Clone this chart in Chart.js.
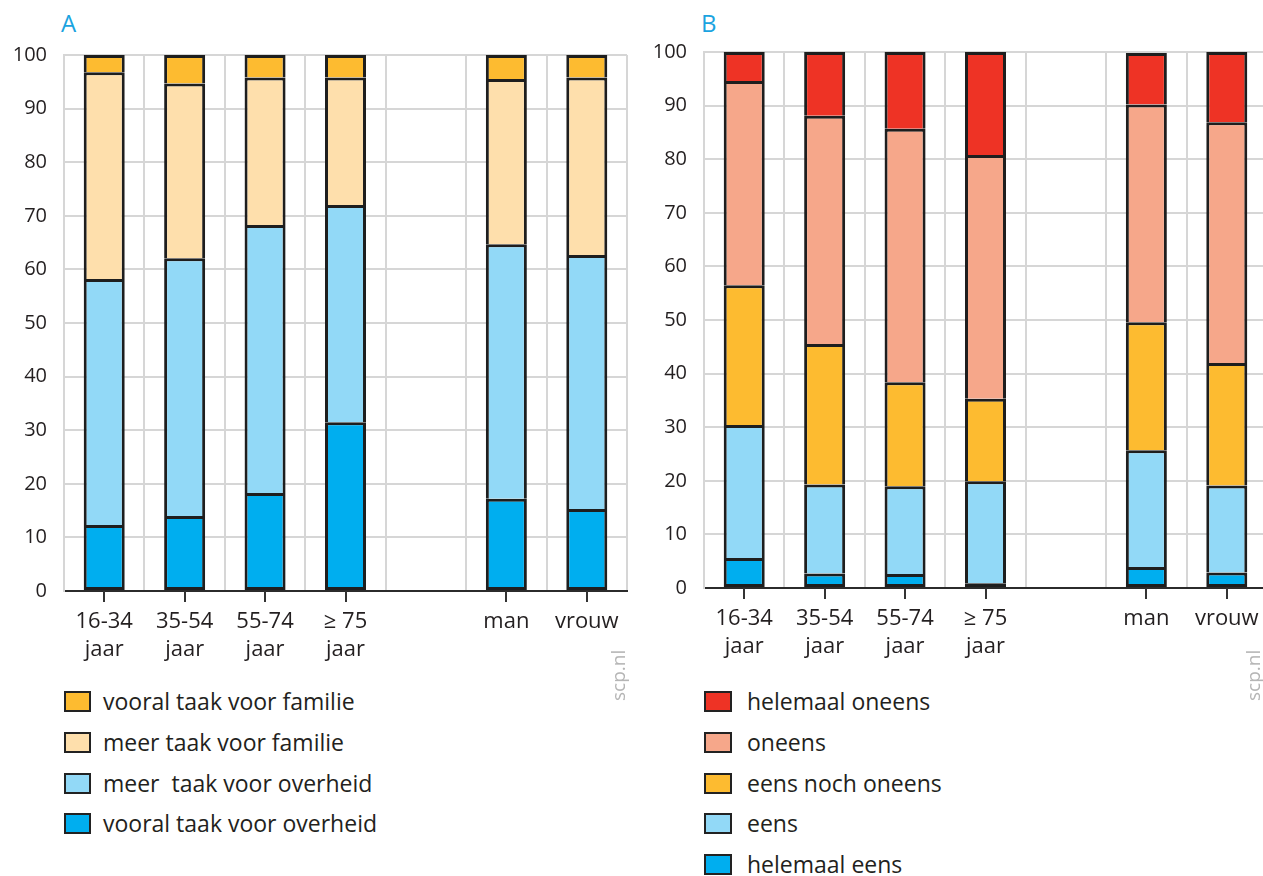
<!DOCTYPE html>
<html>
<head>
<meta charset="utf-8">
<script src="https://cdn.jsdelivr.net/npm/chart.js@4"></script>
<style>
  html, body { margin: 0; padding: 0; background: #fff; }
  body { width: 1263px; height: 876px; overflow: hidden; position: relative; font-family: "Open Sans", sans-serif; color: #231f20; }
  .panel { position: absolute; top: 0; width: 640px; height: 876px; }
  .panel canvas { position: absolute; left: 0; top: 0; }
  .title { position: absolute; top: 6px; font-size: 24px; color: #1aa3e0; }
  .legend { position: absolute; left: 64px; top: 688px; }
  .legend div { height: 40.8px; display: flex; align-items: flex-start; font-size: 23px; line-height: 26px; white-space: pre; }
  .legend span.box { width: 23px; height: 17px; border: 2px solid #222; margin: 3px 12px 0 0; flex: none; }
  #legB span.box { width: 24px; margin-right: 15px; }
  .mark { position: absolute; top: 701px; font-size: 19px; line-height: 20px; color: #b5b5b5; transform: rotate(-90deg); transform-origin: left top; }
</style>
</head>
<body>
<div class="panel" id="pa" style="left:0">
  <div class="title" style="left:61px">A</div>
  <canvas id="chartA" width="640" height="680"></canvas>
  <div class="legend" id="legA"></div>
  <div class="mark" style="left:608px">scp.nl</div>
</div>
<div class="panel" id="pb" style="left:640px">
  <div class="title" style="left:61px">B</div>
  <canvas id="chartB" width="640" height="677"></canvas>
  <div class="legend" id="legB"></div>
  <div class="mark" style="left:603px">scp.nl</div>
</div>
<script>
const categories = [['16-34', 'jaar'], ['35-54', 'jaar'], ['55-74', 'jaar'], ['≥ 75', 'jaar'], '', 'man', 'vrouw']

// panel A
const aVooralOverheid = [12.3, 14.0, 18.3, 31.5, null, 17.2, 15.3]
const aMeerOverheid = [45.9, 48.1, 50.0, 40.5, null, 47.5, 47.4]
const aMeerFamilie = [38.6, 32.6, 27.5, 23.8, null, 30.8, 33.1]
const aVooralFamilie = [3.2, 5.3, 4.2, 4.2, null, 4.5, 4.2]

// panel B
const bHelemaalEens = [5.6, 2.7, 2.6, 0.9, null, 3.9, 2.9]
const bEens = [24.8, 16.6, 16.4, 19.0, null, 21.8, 16.2]
const bNoch = [26.1, 26.2, 19.4, 15.4, null, 23.9, 22.9]
const bOneens = [38.1, 42.6, 47.3, 45.5, null, 40.6, 44.9]
const bHelemaalOneens = [5.4, 11.9, 14.3, 19.2, null, 9.6, 13.1]

const BLUE = '#00aeef'
const LIGHTBLUE = '#92d9f7'
const PEACH = '#fedfac'
const ORANGE = '#fdbb30'
const SALMON = '#f6a78a'
const RED = '#ee3325'

const seriesA = [
  { label: 'vooral taak voor overheid', data: aVooralOverheid, color: BLUE },
  { label: 'meer  taak voor overheid', data: aMeerOverheid, color: LIGHTBLUE },
  { label: 'meer taak voor familie', data: aMeerFamilie, color: PEACH },
  { label: 'vooral taak voor familie', data: aVooralFamilie, color: ORANGE }
]
const seriesB = [
  { label: 'helemaal eens', data: bHelemaalEens, color: BLUE },
  { label: 'eens', data: bEens, color: LIGHTBLUE },
  { label: 'eens noch oneens', data: bNoch, color: ORANGE },
  { label: 'oneens', data: bOneens, color: SALMON },
  { label: 'helemaal oneens', data: bHelemaalOneens, color: RED }
]

// short tick marks under each (non-empty) category centre
const centerTicks = {
  id: 'centerTicks',
  afterDraw(chart) {
    const x = chart.scales.x
    const c = chart.ctx
    const bottom = chart.chartArea.bottom
    c.save()
    c.strokeStyle = '#333'
    c.lineWidth = 2
    categories.forEach((lab, i) => {
      if (lab === '') return
      const px = Math.round(x.getPixelForValue(i))
      c.beginPath()
      c.moveTo(px, bottom)
      c.lineTo(px, bottom + 11)
      c.stroke()
    })
    c.restore()
  }
}

function makeChart(id, series, topPad) {
  return new Chart(document.getElementById(id), {
    type: 'bar',
    data: {
      labels: categories,
      datasets: series.map((s, i) => ({
        label: s.label,
        data: s.data,
        backgroundColor: s.color,
        borderColor: '#1e1e1e',
        borderWidth: 3,
        borderSkipped: i === 0 ? false : 'start',
        inflateAmount: 0,
        barPercentage: 0.51,
        categoryPercentage: 1
      }))
    },
    options: {
      responsive: false,
      animation: false,
      layout: { padding: { top: topPad, right: 13, left: 0, bottom: 0 } },
      plugins: {
        legend: { display: false },
        tooltip: { enabled: false }
      },
      scales: {
        x: {
          stacked: true,
          afterFit: s => { s.height = 89 },
          grid: { offset: true, color: '#d6d6d6', lineWidth: 2, drawTicks: false },
          border: { color: '#2b2b2b', width: 2 },
          ticks: {
            padding: 17,
            color: '#231f20',
            font: { family: 'Open Sans', size: 22, lineHeight: 1.25 },
            maxRotation: 0,
            autoSkip: false
          }
        },
        y: {
          stacked: true,
          min: 0,
          max: 100,
          afterFit: s => { s.width = 64 },
          grid: { color: '#d6d6d6', lineWidth: 2, drawTicks: false },
          border: { color: '#d6d6d6', width: 2 },
          ticks: {
            stepSize: 10,
            padding: 17,
            color: '#231f20',
            font: { family: 'Open Sans', size: 20 }
          }
        }
      }
    },
    plugins: [centerTicks]
  })
}

function makeLegend(id, series) {
  const el = document.getElementById(id)
  series.slice().reverse().forEach(s => {
    const row = document.createElement('div')
    const box = document.createElement('span')
    box.className = 'box'
    box.style.background = s.color
    row.appendChild(box)
    row.appendChild(document.createTextNode(s.label))
    el.appendChild(row)
  })
}

makeChart('chartA', seriesA, 55)
makeChart('chartB', seriesB, 52)
makeLegend('legA', seriesA)
makeLegend('legB', seriesB)
</script>
</body>
</html>
